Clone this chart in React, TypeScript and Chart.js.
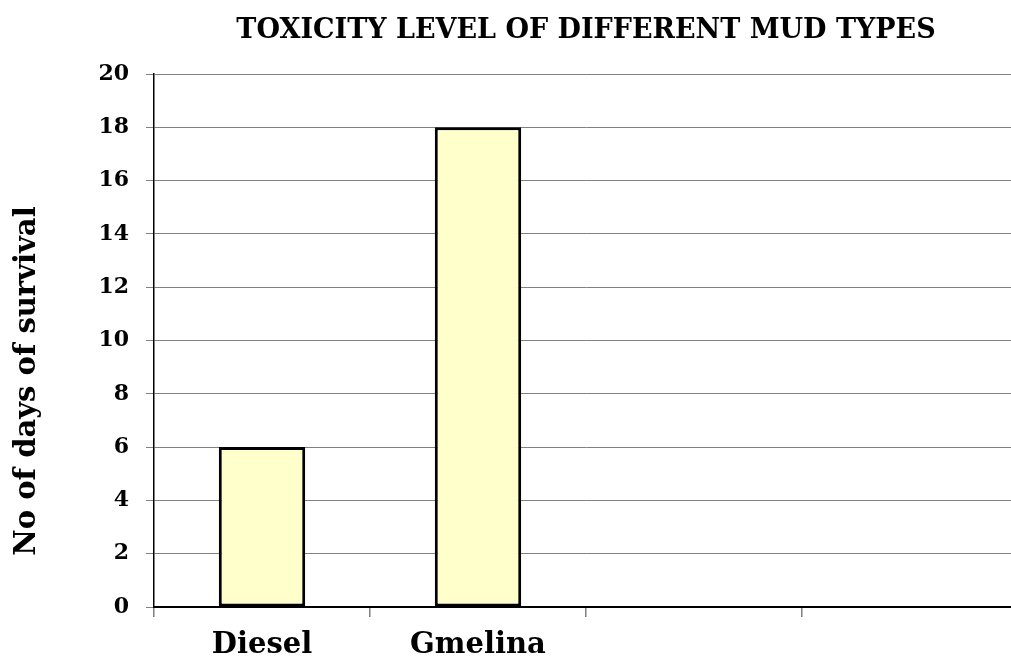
import React, { useEffect, useRef } from "react";
import { Chart, registerables } from "chart.js";

Chart.register(...registerables);

const categories: string[] = ["Diesel", "Gmelina", "", ""];
const survivalDays: (number | null)[] = [6, 18, null, null];
const yTickValues: number[] = [0, 2, 4, 6, 8, 10, 12, 14, 16, 18, 20];
const chartTitle = "TOXICITY LEVEL OF DIFFERENT MUD TYPES";
const yAxisTitle = "No of days of survival";

const serif = "'DejaVu Serif'";

const yTitlePlugin = {
  id: "yTitlePlugin",
  afterDraw(chart: any) {
    const ctx = chart.ctx;
    ctx.save();
    ctx.translate(27, 381);
    ctx.rotate(-Math.PI / 2);
    ctx.font = `bold 29px ${serif}`;
    ctx.fillStyle = "#000";
    ctx.textAlign = "center";
    ctx.textBaseline = "middle";
    ctx.fillText(yAxisTitle, 0, 0);
    ctx.restore();
  },
};

export default function App() {
  const ref = useRef<HTMLCanvasElement | null>(null);

  useEffect(() => {
    document.documentElement.style.overflow = "hidden";
    document.body.style.overflow = "hidden";
    if (!ref.current) return;
    const chart = new Chart(ref.current, {
      type: "bar",
      data: {
        labels: categories,
        datasets: [
          {
            data: survivalDays,
            backgroundColor: "#FFFFCC",
            borderColor: "#000000",
            borderWidth: 3,
            borderSkipped: false,
            barPercentage: 0.4,
            categoryPercentage: 1,
          },
        ],
      },
      options: {
        responsive: false,
        animation: false,
        devicePixelRatio: 1,
        layout: { padding: { left: 0, right: 0, top: 0, bottom: 0 } },
        plugins: {
          legend: { display: false },
          tooltip: { enabled: false },
          title: {
            display: true,
            text: chartTitle,
            fullSize: false,
            color: "#000",
            font: { family: serif, weight: "bold", size: 27 },
            padding: { top: 15, bottom: 26.6 },
          },
        },
        scales: {
          x: {
            type: "category",
            grid: {
              display: true,
              drawOnChartArea: false,
              drawTicks: true,
              tickLength: 10,
              color: "#808080",
              lineWidth: 1.5,
              offset: true,
            },
            border: { display: true, color: "#000", width: 2 },
            ticks: {
              color: "#000",
              font: { family: serif, weight: "bold", size: 29 },
              padding: 11,
              maxRotation: 0,
              autoSkip: false,
            },
            afterFit: (scale: any) => {
              scale.height = 55;
            },
          },
          y: {
            min: 0,
            max: 20,
            afterBuildTicks: (scale: any) => {
              scale.ticks = yTickValues.map((v) => ({ value: v }));
            },
            grid: {
              color: "#808080",
              lineWidth: 1,
              drawTicks: true,
              tickLength: 8,
            },
            border: { display: true, color: "#000", width: 1.5 },
            ticks: {
              color: "#000",
              font: { family: serif, weight: "bold", size: 22 },
              padding: 17,
            },
            title: { display: false },
            afterFit: (scale: any) => {
              scale.width = 154;
            },
          },
        },
      },
      plugins: [yTitlePlugin],
    });
    return () => chart.destroy();
  }, []);

  return (
    <canvas
      ref={ref}
      width={1018}
      height={662}
      style={{ position: "absolute", left: 0, top: 0, width: 1018, height: 662 }}
    />
  );
}
